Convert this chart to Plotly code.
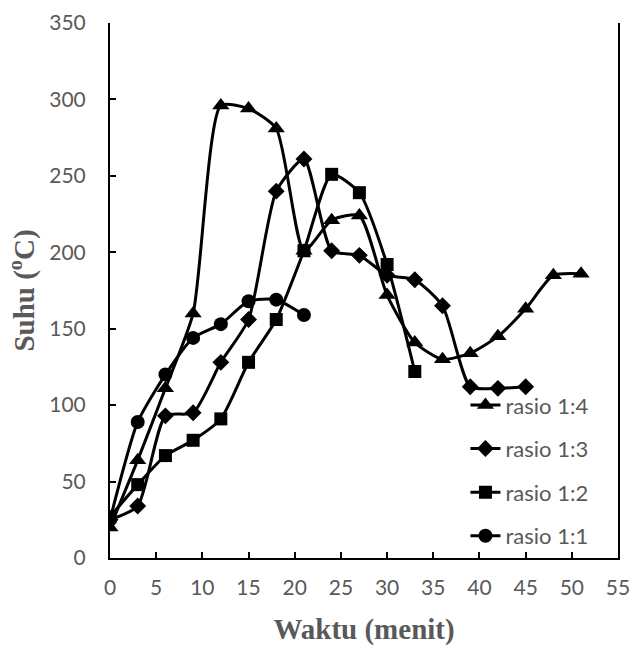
import plotly.graph_objects as go

waktu_14 = [0, 3, 6, 9, 12, 15, 18, 21, 24, 27, 30, 33, 36, 39, 42, 45, 48, 51]
suhu_14 = [20, 64, 111, 160, 296, 294, 281, 201, 221, 224, 172, 141, 130, 134, 145, 163, 185, 186]

waktu_13 = [0, 3, 6, 9, 12, 15, 18, 21, 24, 27, 30, 33, 36, 39, 42, 45]
suhu_13 = [25, 34, 93, 95, 128, 156, 240, 261, 201, 198, 185, 182, 165, 112, 111, 112]

waktu_12 = [0, 3, 6, 9, 12, 15, 18, 21, 24, 27, 30, 33]
suhu_12 = [27, 48, 67, 77, 91, 128, 156, 201, 251, 239, 192, 122]

waktu_11 = [0, 3, 6, 9, 12, 15, 18, 21]
suhu_11 = [25, 89, 120, 144, 153, 168, 169, 159]

series = [
    ("rasio 1:4", waktu_14, suhu_14, "triangle-up", 15),
    ("rasio 1:3", waktu_13, suhu_13, "diamond", 13),
    ("rasio 1:2", waktu_12, suhu_12, "square", 13),
    ("rasio 1:1", waktu_11, suhu_11, "circle", 14),
]

grey = "#595959"
fig = go.Figure()
for i, (name, xs, ys, sym, sz) in enumerate(series):
    fig.add_trace(go.Scatter(
        x=xs, y=ys, name=name, mode="lines+markers",
        line=dict(color="black", width=3, shape="spline", smoothing=0.6),
        marker=dict(symbol=sym, size=sz, color="black"),
        legendgroup=f"g{i}",
    ))

fig.update_layout(
    width=633, height=648,
    margin=dict(l=110, r=15, t=23, b=90, autoexpand=False),
    paper_bgcolor="white", plot_bgcolor="white",
    showlegend=True,
    legend=dict(
        x=0.6997, y=0.325, xanchor="left", yanchor="top",
        bgcolor="rgba(0,0,0,0)",
        font=dict(family="Lato", size=22, color=grey),
        tracegroupgap=12,
    ),
    xaxis=dict(
        range=[0, 55], dtick=5, tick0=0,
        showgrid=False, zeroline=False,
        showline=True, linecolor="black", linewidth=2,
        ticks="inside", ticklen=6, tickwidth=2, tickcolor="black",
        tickfont=dict(family="Lato", size=21, color=grey),
        ticklabelstandoff=10,
        title=dict(text="Waktu (menit)", standoff=20,
                   font=dict(family="Liberation Serif", size=29, color=grey, weight="bold")),
    ),
    yaxis=dict(
        range=[0, 350], dtick=50, tick0=0,
        showgrid=False, zeroline=False,
        showline=True, linecolor="black", linewidth=2, mirror=True,
        ticks="inside", ticklen=6, tickwidth=2, tickcolor="black",
        tickfont=dict(family="Lato", size=21, color=grey),
        ticklabelstandoff=18,
        title=dict(text="Suhu (<sup>o</sup>C)", standoff=6,
                   font=dict(family="Liberation Serif", size=29, color=grey, weight="bold")),
    ),
)

fig.write_html("out.html")
